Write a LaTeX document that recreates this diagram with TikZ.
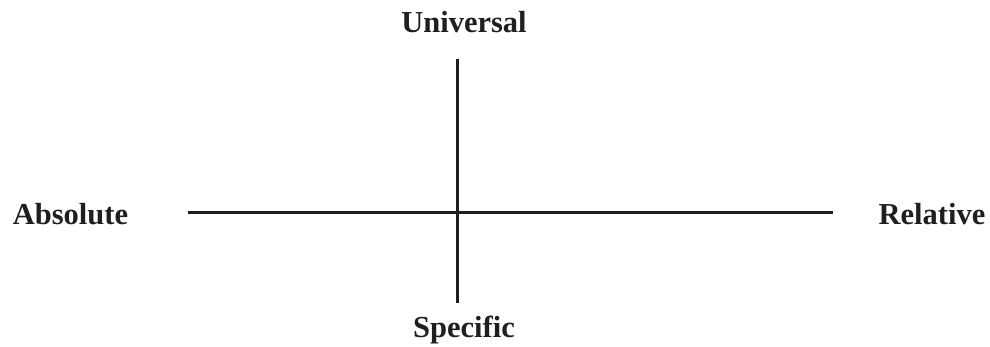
\documentclass[tikz,border=0pt]{standalone}
\usepackage{fontspec}
\setmainfont{Liberation Serif}
\begin{document}
\begin{tikzpicture}[x=1pt,y=-1pt,
  lbl/.style={font=\fontsize{30.5}{36}\selectfont\bfseries, text=black!88, anchor=base, inner sep=0pt},
  axis/.style={line width=3pt, draw=black!88}]
\useasboundingbox (0,0) rectangle (990,347);
\node[lbl] (u) at (464,33) {Universal};
\node[lbl] (s) at (464,337) {Specific};
\node[lbl] (a) at (70.5,225) {Absolute};
\node[lbl] (r) at (932,225) {Relative};
\coordinate (hl) at (188,212.5);
\coordinate (hr) at (833,212.5);
\coordinate (vt) at (457.3,59);
\coordinate (vb) at (457.3,303);
\draw[axis] (hl) -- (hr);
\draw[axis] (vt) -- (vb);
\end{tikzpicture}
\end{document}
